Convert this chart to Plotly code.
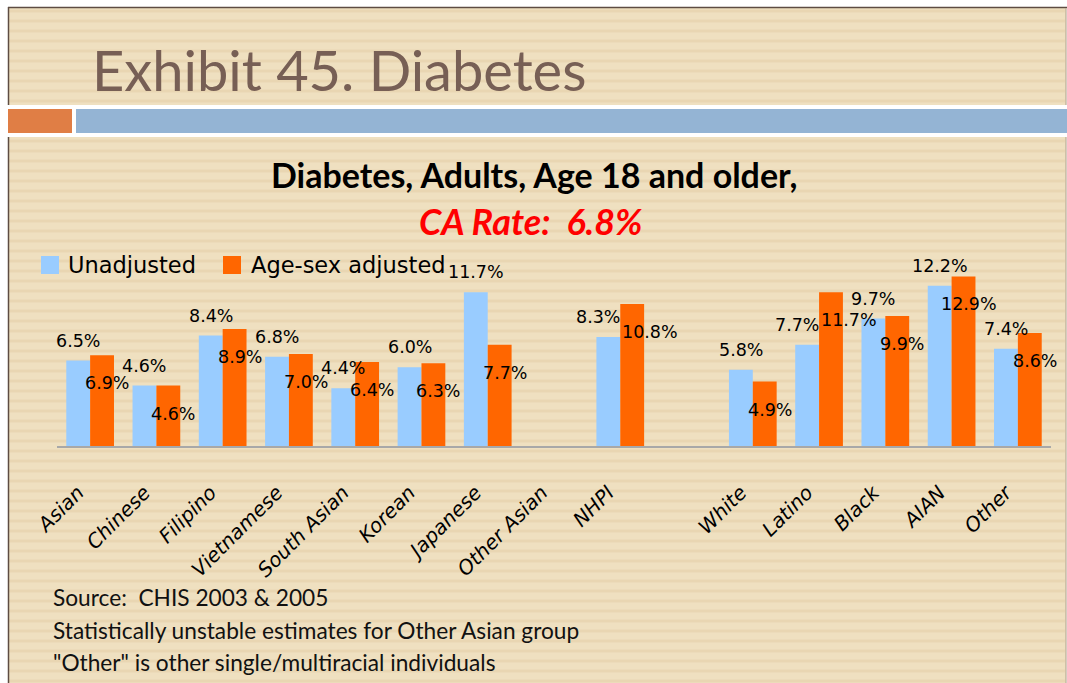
import plotly.graph_objects as go

# ---- data -------------------------------------------------------------
categories = ["Asian", "Chinese", "Filipino", "Vietnamese", "South Asian", "Korean",
              "Japanese", "Other Asian", "NHPI",
              "White", "Latino", "Black", "AIAN", "Other"]
unadjusted = [6.5, 4.6, 8.4, 6.8, 4.4, 6.0, 11.7, None, 8.3,
              5.8, 7.7, 9.7, 12.2, 7.4]
age_sex_adjusted = [6.9, 4.6, 8.9, 7.0, 6.4, 6.3, 7.7, None, 10.8,
                    4.9, 11.7, 9.9, 12.9, 8.6]
series_names = ["Unadjusted", "Age-sex adjusted"]
ca_rate = 6.8

# ---- page geometry ----------------------------------------------------
W, H = 1067, 683
ML, MR, MT, MB = 57, 16, 262, 237
PW, PH = W - ML - MR, H - MT - MB
Y_MAX = 14
PX_PER_UNIT = PH / Y_MAX


def px(x):
    """pixel column -> paper x"""
    return (x - ML) / PW


def py(y):
    """pixel row -> paper y"""
    return (H - MB - y) / PH


# one empty slot separates NHPI from the remaining race groups
xpos = [i if i < 9 else i + 1 for i in range(len(categories))]

BLUE = "#99CCFF"
ORANGE = "#FF6600"
BAR_HALF = 0.18  # centre offset of each bar inside its group

fig = go.Figure()
fig.add_trace(go.Bar(x=xpos, y=unadjusted, name=series_names[0],
                     marker=dict(color=BLUE, line=dict(width=0))))
fig.add_trace(go.Bar(x=xpos, y=age_sex_adjusted, name=series_names[1],
                     marker=dict(color=ORANGE, line=dict(width=0))))

shapes = []


def rect(x0, x1, y0, y1, color, layer="below"):
    shapes.append(dict(type="rect", xref="paper", yref="paper", layer=layer,
                       x0=px(x0), x1=px(x1), y0=py(y0), y1=py(y1),
                       fillcolor=color, line=dict(width=0)))


def line(x0, x1, y0, y1, color, width):
    shapes.append(dict(type="line", xref="paper", yref="paper", layer="below",
                       x0=px(x0), x1=px(x1), y0=py(y0), y1=py(y1),
                       line=dict(color=color, width=width)))


# slide background with faint horizontal grain
rect(8, 1066, 7, H, "#EFE0C0")
for yy in range(9, H, 10):
    rect(9, 1065, yy, yy + 4, "rgba(205,172,110,0.08)")
    rect(9, 1065, yy + 1, yy + 3, "rgba(205,172,110,0.10)")
# header separator band
rect(8, W, 105, 137, "white")
rect(8, 72, 109, 133, "#E07E45")
rect(76, W, 109, 133, "#94B4D4")
# frame lines
line(8, W, 7.5, 7.5, "#5E4C42", 1.5)
line(8.5, 8.5, 7, 105, "#5E4C42", 1.5)
line(8.5, 8.5, 137, H, "#5E4C42", 1.5)
line(1066, 1066, 8, 105, "#B9AA95", 1.2)
line(1066, 1066, 137, H, "#B9AA95", 1.2)
# legend swatches
rect(41, 59, 256, 274, BLUE, layer="above")
rect(223, 241, 256, 274, ORANGE, layer="above")

LABEL_FONT = dict(family="DejaVu Sans", size=17.5, color="black")
ABOVE_GAP, INSIDE_DROP = 20, 28  # label centre offsets from the bar top, px
ann = []
# value labels: unadjusted above its bar, adjusted just below the bar top;
# when the two would collide they are pushed apart sideways
for x, u, a in zip(xpos, unadjusted, age_sex_adjusted):
    if u is None or a is None:
        continue
    cu = u * PX_PER_UNIT + ABOVE_GAP
    ca = a * PX_PER_UNIT - INSIDE_DROP
    clash = abs(cu - ca) < 20
    ann.append(dict(x=x - BAR_HALF, y=u, xref="x", yref="y", text=f"{u:.1f}%",
                    showarrow=False, yanchor="middle", yshift=ABOVE_GAP,
                    xshift=-10 if clash else 0, font=LABEL_FONT))
    ann.append(dict(x=x + BAR_HALF, y=a, xref="x", yref="y", text=f"{a:.1f}%",
                    showarrow=False, yanchor="middle", yshift=-INSIDE_DROP,
                    xshift=18 if clash else 5, font=LABEL_FONT))

# legend texts
LEG_FONT = dict(family="DejaVu Sans", size=22.5, color="black")
ann.append(dict(x=px(66), y=py(265), xref="paper", yref="paper", text=series_names[0],
                showarrow=False, xanchor="left", yanchor="middle", font=LEG_FONT))
ann.append(dict(x=px(249), y=py(265), xref="paper", yref="paper", text=series_names[1],
                showarrow=False, xanchor="left", yanchor="middle", font=LEG_FONT))

# slide heading and chart titles
ann.append(dict(x=px(90), y=py(69), xref="paper", yref="paper",
                text="Exhibit 45. Diabetes", showarrow=False,
                xanchor="left", yanchor="middle",
                font=dict(family="Lato", size=56, color="#775F55")))
ann.append(dict(x=px(534), y=py(174), xref="paper", yref="paper",
                text="Diabetes, Adults, Age 18 and older,", showarrow=False,
                xanchor="center", yanchor="middle",
                font=dict(family="Lato", size=34, color="black", weight=700)))
ann.append(dict(x=px(530), y=py(221), xref="paper", yref="paper",
                text=f"CA Rate:&nbsp; {ca_rate:.1f}%", showarrow=False,
                xanchor="center", yanchor="middle",
                font=dict(family="Lato", size=36, color="#FF0000", weight=700,
                          style="italic")))

# footnotes
notes = ["Source:&nbsp; CHIS 2003 &amp; 2005",
         "Statistically unstable estimates for Other Asian group",
         "\"Other\" is other single/multiracial individuals"]
for txt, yy in zip(notes, [597, 630, 662]):
    ann.append(dict(x=px(51), y=py(yy), xref="paper", yref="paper", text=txt,
                    showarrow=False, xanchor="left", yanchor="middle",
                    font=dict(family="Lato", size=22.7, color="#111111")))

fig.update_layout(
    width=W, height=H,
    margin=dict(l=ML, r=MR, t=MT, b=MB),
    paper_bgcolor="white",
    plot_bgcolor="rgba(0,0,0,0)",
    barmode="group", bargap=0.28, bargroupgap=0,
    showlegend=False,
    shapes=shapes,
    annotations=ann,
    xaxis=dict(range=[-0.5, 14.5], tickmode="array", tickvals=xpos,
               ticktext=categories, tickangle=-45, showgrid=False, zeroline=False,
               showline=True, linecolor="#A8A8A8", linewidth=2, ticks="",
               ticklabelstandoff=25, ticklabelshift=-12,
               tickfont=dict(family="DejaVu Sans", size=20, color="black",
                             style="italic")),
    yaxis=dict(range=[0, Y_MAX], visible=False, fixedrange=True),
)

fig.write_html("out.html")
